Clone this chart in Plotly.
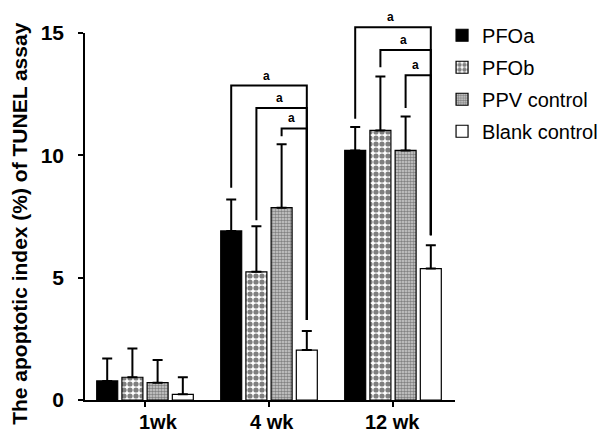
import plotly.graph_objects as go

# ---- data ----
categories = ["1wk", "4 wk", "12 wk"]
series_names = ["PFOa", "PFOb", "PPV control", "Blank control"]
pfoa_mean = [0.78, 6.91, 10.20]
pfoa_err = [0.92, 1.28, 0.96]
pfob_mean = [0.93, 5.24, 11.02]
pfob_err = [1.18, 1.86, 2.20]
ppv_mean = [0.71, 7.86, 10.20]
ppv_err = [0.92, 2.59, 1.39]
blank_mean = [0.23, 2.04, 5.37]
blank_err = [0.70, 0.78, 0.96]
y_ticks = [0, 5, 10, 15]

# significance brackets (group index, left series index, level, left-leg bottom, right-leg bottom)
sig_group = [1, 1, 1, 2, 2, 2]
sig_left = [0, 1, 2, 0, 1, 2]
sig_level = [12.85, 11.93, 11.10, 15.24, 14.31, 13.27]
sig_left_bottom = [8.67, 7.35, 10.78, 11.50, 13.60, 11.93]
sig_right_bottom = [3.27, 3.27, 3.27, 6.73, 6.73, 6.73]
sig_text = "a"

# ---- styling ----
FONT = "Liberation Sans, Arial, sans-serif"
W, H = 604, 432
ML, MR, MT, MB = 85, 149, 32.5, 32
XR = [-0.484, 2.5]
YR = [0, 15]
BARGAP = 0.187
BARGROUPGAP = 0.167

means = [pfoa_mean, pfob_mean, ppv_mean, blank_mean]
errs = [pfoa_err, pfob_err, ppv_err, blank_err]
fills = ["black", "white", "#b0b0b0", "white"]
patterns = [
    None,
    dict(shape=".", fgcolor="black", bgcolor="white", size=6, solidity=0.6),
    dict(shape=".", fgcolor="#333333", bgcolor="#d0d0d0", size=3, solidity=0.55),
    None,
]

fig = go.Figure()
for i, name in enumerate(series_names):
    marker = dict(color=fills[i], line=dict(color="black", width=1.2))
    if patterns[i] is not None:
        marker["pattern"] = patterns[i]
    fig.add_trace(go.Bar(
        x=categories, y=means[i], name=name, marker=marker,
        legendgroup=name,
        error_y=dict(type="data", array=errs[i], arrayminus=[0] * len(errs[i]),
                     symmetric=False, color="black", thickness=2, width=5),
    ))

# helpers converting data values to paper coords through the axis ranges
n_series = len(series_names)
slot = (1 - BARGAP) / n_series

def bar_x(group, series):
    return group + (series - (n_series - 1) / 2) * slot

def xp(x):
    return (x - XR[0]) / (XR[1] - XR[0])

def yp(v):
    return (v - YR[0]) / (YR[1] - YR[0])

shapes = []
annotations = []
for g, s, lvl, lb, rb in zip(sig_group, sig_left, sig_level, sig_left_bottom, sig_right_bottom):
    xl = xp(bar_x(g, s))
    xr = xp(bar_x(g, n_series - 1))
    path = f"M{xl},{yp(lb)} L{xl},{yp(lvl)} L{xr},{yp(lvl)} L{xr},{yp(rb)}"
    shapes.append(dict(type="path", xref="paper", yref="paper", path=path,
                       line=dict(color="black", width=2)))
    annotations.append(dict(xref="paper", yref="paper", x=(xl + xr) / 2 - 0.006, y=yp(lvl),
                            text=sig_text, showarrow=False, xanchor="center",
                            yanchor="middle", yshift=10,
                            font=dict(family=FONT, size=12, color="black", weight="bold")))

# category labels
x_label_shift = [13, 3, -1]
for i, c in enumerate(categories):
    annotations.append(dict(xref="paper", yref="paper", x=xp(i), y=yp(YR[0]),
                            text=c, showarrow=False, xanchor="center", yanchor="top",
                            yshift=-9, xshift=x_label_shift[i],
                            font=dict(family=FONT, size=20, color="black", weight="bold")))

# y axis title
annotations.append(dict(xref="paper", yref="paper", x=(20 - ML) / (W - ML - MR), y=0.48,
                        text="The apoptotic index (%) of TUNEL assay", showarrow=False,
                        textangle=-90, xanchor="center", yanchor="middle",
                        font=dict(family=FONT, size=21, color="black", weight="bold")))

fig.update_layout(
    width=W, height=H,
    margin=dict(l=ML, r=MR, t=MT, b=MB, pad=0, autoexpand=False),
    paper_bgcolor="white", plot_bgcolor="white",
    barmode="group", bargap=BARGAP, bargroupgap=BARGROUPGAP,
    showlegend=True,
    legend=dict(x=0.965, y=1.047, xanchor="left", yanchor="top",
                font=dict(family=FONT, size=20, color="black"),
                traceorder="grouped", tracegroupgap=3,
                bgcolor="rgba(0,0,0,0)"),
    shapes=shapes, annotations=annotations,
    font=dict(family=FONT, color="black"),
)
fig.update_xaxes(range=XR, type="category", showticklabels=False,
                 ticks="outside", ticklen=5, tickwidth=1.5, tickcolor="black",
                 showline=True, linecolor="black", linewidth=1.5,
                 showgrid=False, zeroline=False)
fig.update_yaxes(range=YR, tickvals=y_ticks, ticks="outside", ticklen=5, tickwidth=1.5,
                 tickcolor="black", showline=True, linecolor="black", linewidth=1.5,
                 showgrid=False, zeroline=False, ticklabelstandoff=10,
                 tickfont=dict(family=FONT, size=21, color="black", weight="bold"))

fig.write_html("out.html", config={"displayModeBar": False},
               post_script="document.body.style.margin='0';document.body.style.overflow='hidden';")
